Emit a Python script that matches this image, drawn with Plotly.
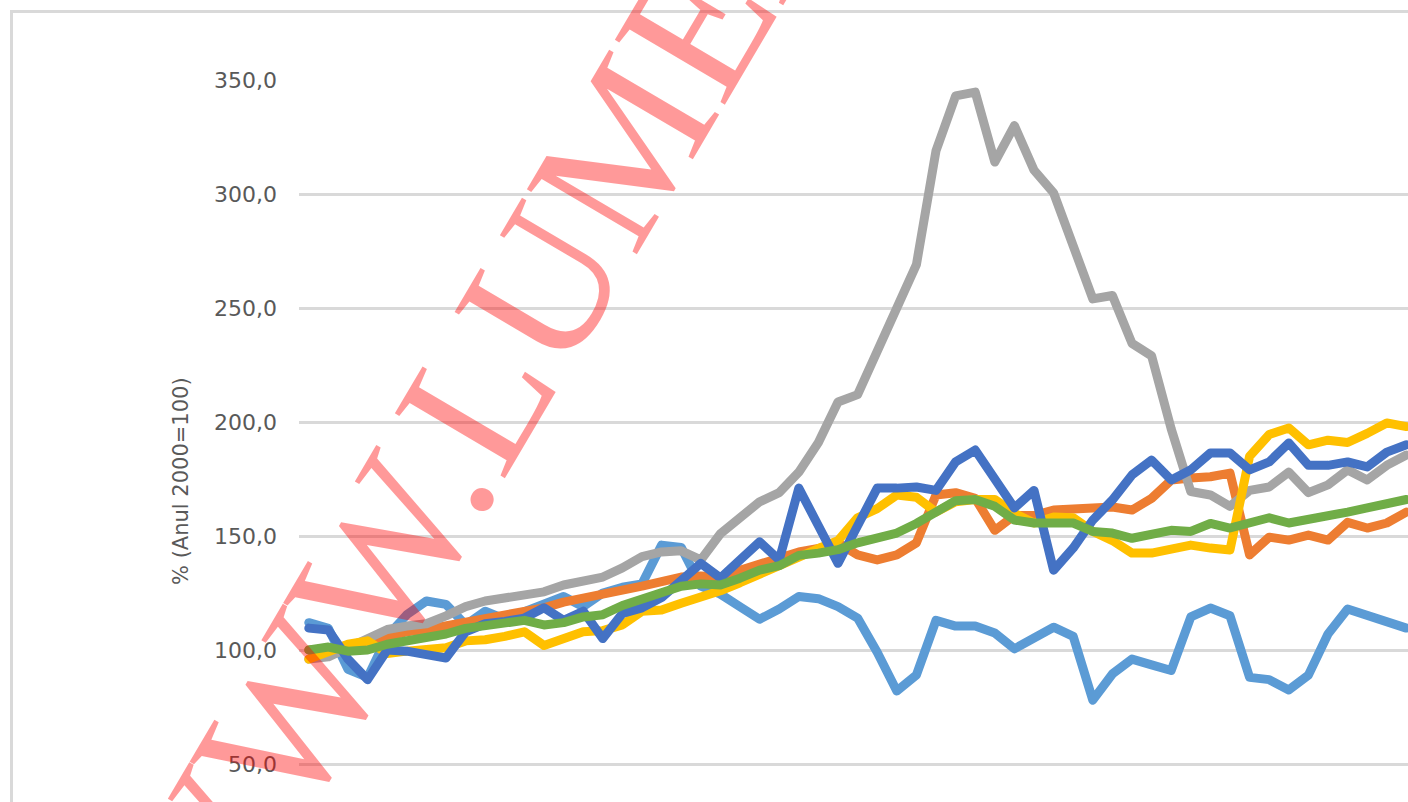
import plotly.graph_objects as go

periods = list(range(57))

light_blue = [112, 109.5, 91.5, 88, 106, 115.5, 121.5, 120, 111, 117,
              113.5, 117, 119.5, 123.5, 119, 125, 127.5, 129, 146, 145,
              128, 124.5, 119, 113.5, 118, 123.5, 122.5, 119, 114, 99,
              82, 89, 113, 110.5, 110.5, 107.5, 100.5, 105.7, 110, 106,
              78, 89.5, 96, 93.5, 91, 114.5, 118.4, 115, 88, 87,
              82.5, 89, 107, 118, 115.5, 113, 109.6]
orange = [100, 100.5, 102, 104, 106.5, 108, 109, 110.5, 113, 114.5,
          116, 117, 118.5, 121, 122.5, 124, 126, 128, 130, 132,
          132.5, 132, 135, 138, 141, 143, 144.5, 147, 141.7, 139.5,
          141.7, 147, 168, 169, 166.5, 152.5, 159, 159, 161.4, 162.3,
          162.3, 162.7, 161.4, 166.5, 174.5, 175.4, 176, 177.6, 141.7, 149.5,
          148.2, 150.4, 148.2, 156, 153.5, 155.7, 160.5]
gray = [96, 97, 101, 105, 109, 110.5, 111.5, 115, 119, 121.5,
        123, 124.5, 125.5, 128.5, 130, 132, 136, 141, 143, 143.5,
        139.5, 151, 158, 165, 169, 178, 191, 208.8, 212, 230.7,
        250, 269, 319, 343, 344.7, 314, 330, 310.5, 300.5, 276,
        254, 255.5, 234.5, 229, 197, 169.5, 168, 163, 170, 171.5,
        178, 169, 172.4, 179, 174.6, 181, 185.5]
yellow = [96, 99, 102.5, 104, 98.5, 99.5, 100, 101, 104, 104.5,
          106, 108, 102, 105.5, 108, 108.5, 111, 117, 117.5, 120.5,
          123, 126, 129.5, 133.5, 136.5, 141.5, 144.5, 148, 158, 162,
          168, 167, 160.5, 165, 166, 166, 160, 155.7, 158.3, 158,
          152, 148, 142.5, 142.5, 144.5, 146, 144.7, 143.9, 185, 194.5,
          197.4, 190, 192, 191, 195, 199.6, 198]
dark_blue = [109.6, 108.8, 96, 87, 100, 99.5, 98, 96.5, 108, 111.5,
             112.5, 114, 118.5, 113, 117, 105, 116, 118.5, 123, 131,
             138, 131.6, 140, 147.4, 139.5, 171, 154.5, 138, 154.5, 171,
             171, 171.5, 170, 182.5, 187.7, 175, 162.3, 170, 135, 144.7,
             157, 165.8, 176.8, 183.3, 174.6, 179, 186.4, 186.4, 179, 182.5,
             190.8, 181, 181, 182.5, 180.3, 186.8, 190]
green = [100, 101.3, 99.5, 100, 102.5, 104, 105.3, 107, 109.5, 111,
         112, 113, 111, 112, 114.5, 115.5, 119.5, 122.5, 125.5, 128,
         129, 128.5, 131.5, 135, 137, 141.5, 142.5, 144, 147, 149.5,
         151.3, 155.5, 160.5, 165.5, 166, 163, 157, 155.7, 155.7, 155.7,
         152, 151.3, 149, 150.4, 152.5, 152, 155.5, 153.5, 155.7, 158,
         155.7, 157, 158.3, 160.5, 162.3, 164.5, 166]

series = [
    ("Seria 1", light_blue, "#5B9BD5"),
    ("Seria 2", orange, "#ED7D31"),
    ("Seria 3", gray, "#A5A5A5"),
    ("Seria 4", yellow, "#FFC000"),
    ("Seria 5", dark_blue, "#4472C4"),
    ("Seria 6", green, "#70AD47"),
]

y_title = "% (Anul 2000=100)"
watermark = "WWW.LUMEA"

W, H = 1408, 802
L, T = 299, 80
PW, PH = W - L, H - T
spacing = 19.6


def px(xp):
    return (xp - L) / PW


def py(yp):
    return (H - yp) / PH


fig = go.Figure()
for name, vals, col in series:
    fig.add_trace(go.Scatter(x=periods, y=vals, mode="lines", name=name,
                             line=dict(color=col, width=9), showlegend=False,
                             hoverinfo="skip"))

fig.update_layout(
    width=W, height=H,
    margin=dict(l=L, r=0, t=T, b=0, autoexpand=False),
    paper_bgcolor="white", plot_bgcolor="white",
    separators=", ",
    font=dict(family="DejaVu Sans", color="#595959"),
    xaxis=dict(range=[-0.5, -0.5 + PW / spacing], showgrid=False, zeroline=False,
               showticklabels=False, showline=False, ticks=""),
    yaxis=dict(range=[350 - PH / 2.28, 350], tick0=0, dtick=50, tickformat=".1f",
               showgrid=True, gridcolor="#D9D9D9", gridwidth=3, zeroline=False,
               showline=False, ticks="", ticklabelstandoff=21,
               tickfont=dict(family="DejaVu Sans", size=22, color="#595959")),
    shapes=[dict(type="rect", xref="paper", yref="paper",
                 x0=px(11.5), y0=py(900), x1=px(1500), y1=py(11.5),
                 line=dict(color="#D9D9D9", width=3), layer="below")],
    annotations=[
        dict(text=y_title, xref="paper", yref="paper", x=px(181), y=py(481),
             xanchor="center", yanchor="middle", textangle=-90, showarrow=False,
             font=dict(family="DejaVu Sans", size=21, color="#595959")),
        dict(text=watermark, xref="paper", yref="paper", x=px(473), y=py(402),
             xanchor="center", yanchor="middle", textangle=-59.5, showarrow=False,
             font=dict(family="Liberation Serif", size=195, color="rgba(255,0,0,0.4)")),
    ],
)

fig.write_html(
    "out.html",
    config={"displayModeBar": False, "staticPlot": True},
    post_script=(
        "document.body.style.margin='0';"
        "document.documentElement.style.overflow='hidden';"
        "document.querySelectorAll('.scatterlayer .js-line').forEach(function(p){"
        "p.style.strokeLinejoin='round';p.style.strokeLinecap='round';});"
    ),
)
